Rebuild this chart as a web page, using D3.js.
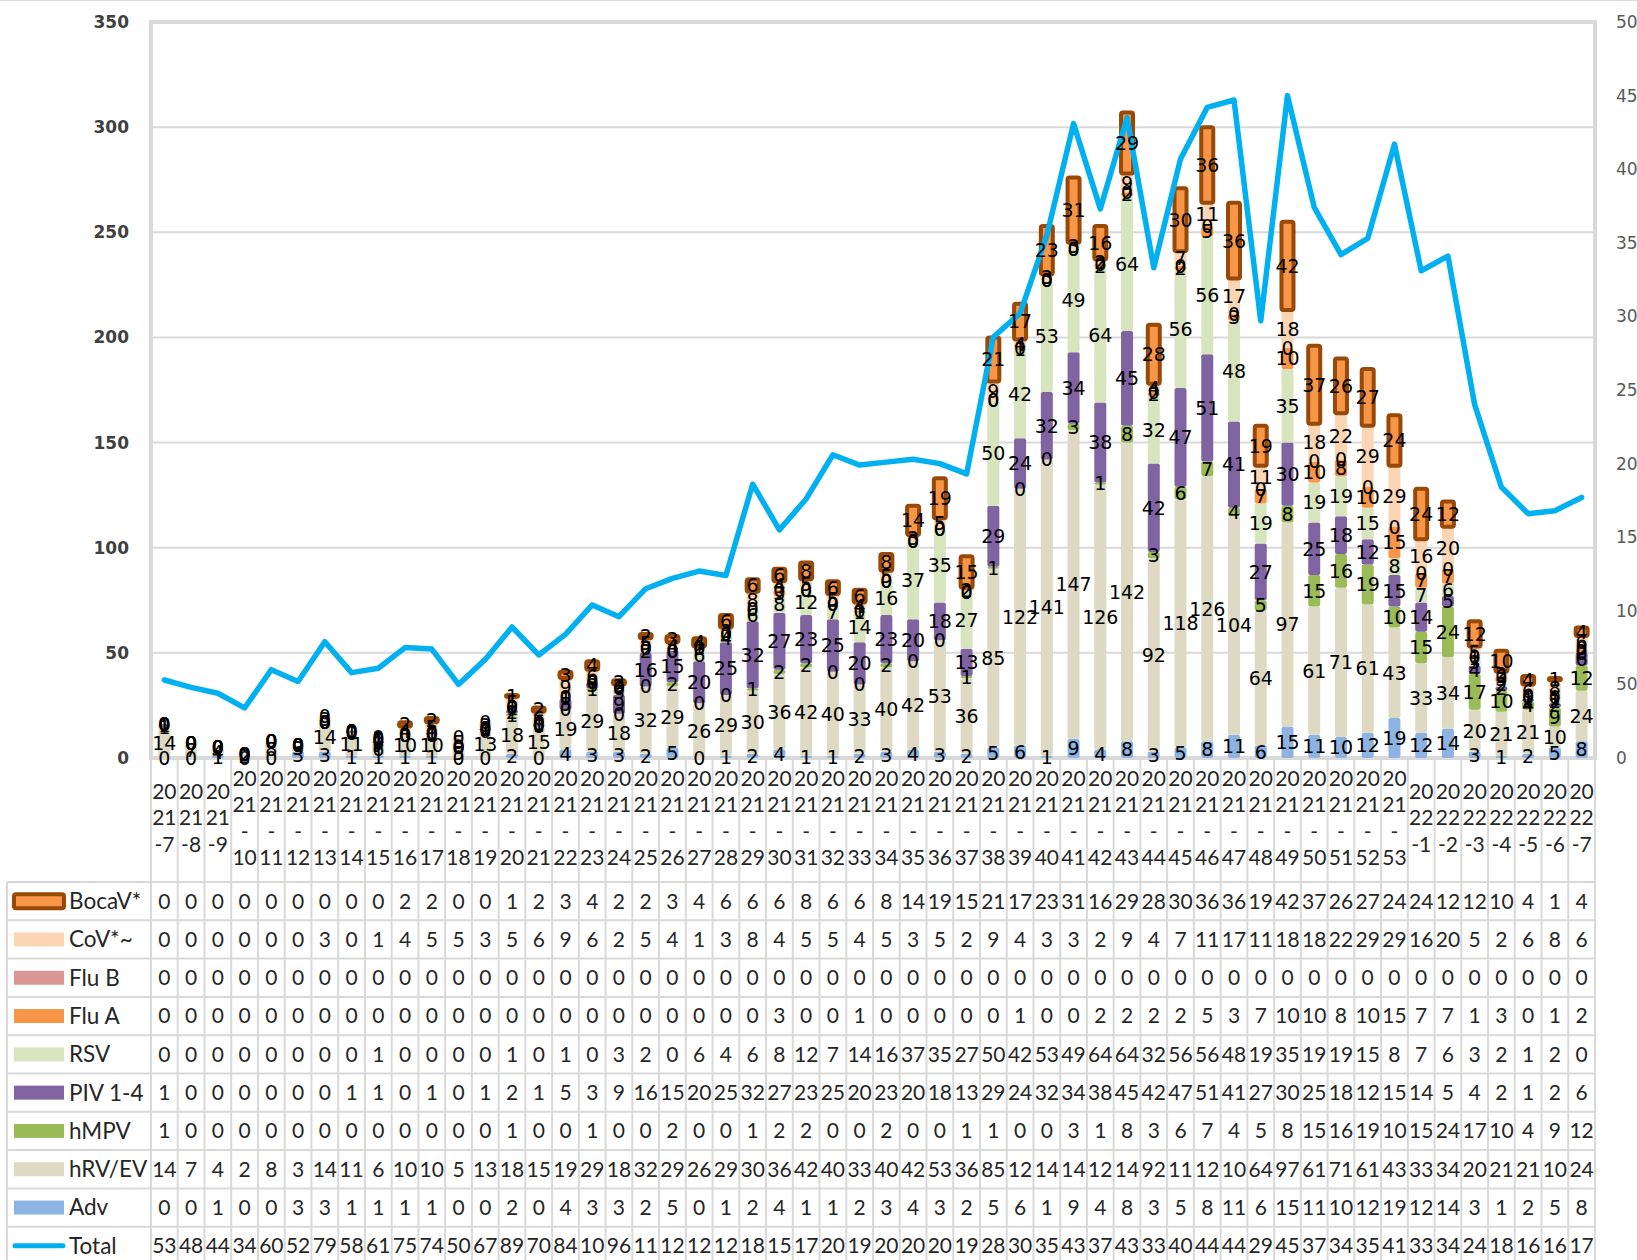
<!DOCTYPE html>
<html>
<head>
<meta charset="utf-8">
<script src="https://cdn.jsdelivr.net/npm/d3@7/dist/d3.min.js"></script>
<style>
  body { margin: 0; background: #fff; }
  svg { display: block; }
</style>
</head>
<body>
<div id="chart"></div>
<script>
const weeks = ["2021-7","2021-8","2021-9","2021-10","2021-11","2021-12","2021-13","2021-14","2021-15","2021-16",
  "2021-17","2021-18","2021-19","2021-20","2021-21","2021-22","2021-23","2021-24","2021-25","2021-26",
  "2021-27","2021-28","2021-29","2021-30","2021-31","2021-32","2021-33","2021-34","2021-35","2021-36",
  "2021-37","2021-38","2021-39","2021-40","2021-41","2021-42","2021-43","2021-44","2021-45","2021-46",
  "2021-47","2021-48","2021-49","2021-50","2021-51","2021-52","2021-53","2022-1","2022-2","2022-3",
  "2022-4","2022-5","2022-6","2022-7"];

const bocav = [0,0,0,0,0,0,0,0,0,2,2,0,0,1,2, 3,4,2,2,3,4,6,6,6,8,6,6,8,14,19,15,21,17,23,31, 16,29,28,30,36,36,19,42,37,26,27,24,24,12,12,10,4,1,4];
const cov   = [0,0,0,0,0,0,3,0,1,4,5,5,3,5,6, 9,6,2,5,4,1,3,8,4,5,5,4,5,3,5,2,9,4,3,3, 2,9,4,7,11,17,11,18,18,22,29,29,16,20,5,2,6,8,6];
const flub  = [0,0,0,0,0,0,0,0,0,0,0,0,0,0,0, 0,0,0,0,0,0,0,0,0,0,0,0,0,0,0,0,0,0,0,0, 0,0,0,0,0,0,0,0,0,0,0,0,0,0,0,0,0,0,0];
const flua  = [0,0,0,0,0,0,0,0,0,0,0,0,0,0,0, 0,0,0,0,0,0,0,0,3,0,0,1,0,0,0,0,0,1,0,0, 2,2,2,2,5,3,7,10,10,8,10,15,7,7,1,3,0,1,2];
const rsv   = [0,0,0,0,0,0,0,0,1,0,0,0,0,1,0, 1,0,3,2,0,6,4,6,8,12,7,14,16,37,35,27,50,42,53,49, 64,64,32,56,56,48,19,35,19,19,15,8,7,6,3,2,1,2,0];
const piv   = [1,0,0,0,0,0,0,1,1,0,1,0,1,2,1, 5,3,9,16,15,20,25,32,27,23,25,20,23,20,18,13,29,24,32,34, 38,45,42,47,51,41,27,30,25,18,12,15,14,5,4,2,1,2,6];
const hmpv  = [1,0,0,0,0,0,0,0,0,0,0,0,0,1,0, 0,1,0,0,2,0,0,1,2,2,0,0,2,0,0,1,1,0,0,3, 1,8,3,6,7,4,5,8,15,16,19,10,15,24,17,10,4,9,12];
const hrv   = [14,7,4,2,8,3,14,11,6,10,10,5,13,18,15, 19,29,18,32,29,26,29,30,36,42,40,33,40,42,53,36,85,122,141,147, 126,142,92,118,126,104,64,97,61,71,61,43,33,34,20,21,21,10,24];
const adv   = [0,0,1,0,0,3,3,1,1,1,1,0,0,2,0, 4,3,3,2,5,0,1,2,4,1,1,2,3,4,3,2,5,6,1,9, 4,8,3,5,8,11,6,15,11,10,12,19,12,14,3,1,2,5,8];
const total = [53,48,44,34,60,52,79,58,61,75,74,50,67,89,70, 84,104,96,115,122,127,124,186,155,176,206,199,201,203,200,193,286,302,355,431, 373,435,333,407,442,447,297,450,374,342,353,417,331,341,240,184,166,168,177];

const leftTicks = [0,50,100,150,200,250,300,350];
const rightTicks = [0,50,100,150,200,250,300,350,400,450,500];

// series, bottom of the stack first
const series = [
  {key: "Adv",     values: adv,   color: "#8db3e2"},
  {key: "hRV/EV",  values: hrv,   color: "#ddd9c3"},
  {key: "hMPV",    values: hmpv,  color: "#9bbb59"},
  {key: "PIV 1-4", values: piv,   color: "#8064a2"},
  {key: "RSV",     values: rsv,   color: "#d7e4bd"},
  {key: "Flu A",   values: flua,  color: "#f79646"},
  {key: "Flu B",   values: flub,  color: "#d99694"},
  {key: "CoV*~",   values: cov,   color: "#fcd5b5"},
  {key: "BocaV*",  values: bocav, color: "#f79646", stroke: "#984807"}
];

// Set the dimensions of the page and plot area
let width = 1637, height = 1260;
let plot = {left: 151, right: 1595, top: 22, bottom: 758};
let gridColor = "#d9d9d9";

var svg = d3.select("#chart")
  .append("svg")
    .attr("width", width)
    .attr("height", height);

svg.append("line")
  .attr("x1", 0).attr("x2", width).attr("y1", 0.5).attr("y2", 0.5)
  .attr("stroke", gridColor).attr("stroke-width", 1);

var x = d3.scaleBand()
  .domain(weeks)
  .range([plot.left, plot.right]);
var y = d3.scaleLinear()
  .domain([0, 350])
  .range([plot.bottom, plot.top]);
var y2 = d3.scaleLinear()
  .domain([0, 500])
  .range([plot.bottom, plot.top]);

// Gridlines
svg.append("g")
  .selectAll("line")
  .data(leftTicks)
  .enter()
  .append("line")
    .attr("x1", plot.left).attr("x2", plot.right)
    .attr("y1", d => y(d)).attr("y2", d => y(d))
    .attr("stroke", gridColor)
    .attr("stroke-width", 2);

// Left axis
let axL = svg.append("g")
  .attr("transform", "translate(" + plot.left + ",0)")
  .call(d3.axisLeft(y).tickValues(leftTicks).tickSize(0).tickPadding(22));
axL.select(".domain").remove();
axL.selectAll("text")
  .style("font-family", "'DejaVu Sans', sans-serif")
  .style("font-size", "17px")
  .style("font-weight", "bold")
  .style("fill", "#404040");

// Right axis
let axR = svg.append("g")
  .attr("transform", "translate(" + plot.right + ",0)")
  .call(d3.axisRight(y2).tickValues(rightTicks).tickSize(0).tickPadding(21));
axR.select(".domain").remove();
axR.selectAll("text")
  .style("font-family", "'DejaVu Sans', sans-serif")
  .style("font-size", "17px")
  .style("fill", "#595959");

// Table grid (x-axis category row + data table)
let colW = x.step();
let headTop = plot.bottom, rowTop = 882, rowH = 38.3;
let rowNames = ["BocaV*","CoV*~","Flu B","Flu A","RSV","PIV 1-4","hMPV","hRV/EV","Adv","Total"];
let rowValues = [bocav, cov, flub, flua, rsv, piv, hmpv, hrv, adv, total];

let grid = svg.append("g").attr("stroke", gridColor).attr("stroke-width", 2);
grid.selectAll(".vline")
  .data(d3.range(weeks.length + 1))
  .enter()
  .append("line")
    .attr("x1", i => plot.left + i * colW).attr("x2", i => plot.left + i * colW)
    .attr("y1", headTop).attr("y2", height);
grid.append("line")
  .attr("x1", 7).attr("x2", 7).attr("y1", rowTop).attr("y2", height);
grid.selectAll(".hline")
  .data(d3.range(rowNames.length + 1))
  .enter()
  .append("line")
    .attr("x1", 7).attr("x2", plot.right)
    .attr("y1", i => rowTop + i * rowH).attr("y2", i => rowTop + i * rowH);

// Plot frame
svg.append("rect")
  .attr("x", plot.left).attr("y", plot.top)
  .attr("width", plot.right - plot.left).attr("height", plot.bottom - plot.top)
  .attr("fill", "none")
  .attr("stroke", gridColor)
  .attr("stroke-width", 4);

// Stacked bars
let rows = weeks.map((w, i) => {
  let r = {week: w};
  series.forEach(s => r[s.key] = s.values[i]);
  return r;
});
let stacked = d3.stack().keys(series.map(s => s.key))(rows);
let barW = 12;

let layers = svg.append("g")
  .selectAll("g")
  .data(stacked)
  .enter()
  .append("g")
    .attr("fill", (d, i) => series[i].color)
    .attr("stroke", (d, i) => series[i].stroke || "none")
    .attr("stroke-width", (d, i) => series[i].stroke ? 4 : 0);

layers.selectAll("rect")
  .data(d => d.filter(p => p[1] - p[0] > 0))
  .enter()
  .append("rect")
    .attr("x", d => x(d.data.week) + (colW - barW) / 2)
    .attr("y", d => y(d[1]))
    .attr("width", barW)
    .attr("height", d => y(d[0]) - y(d[1]))
    .attr("rx", 2);

// Total line on the right axis
let line = d3.line()
  .x((d, i) => x(weeks[i]) + colW / 2)
  .y(d => y2(d));
svg.append("path")
  .datum(total)
  .attr("d", line)
  .attr("fill", "none")
  .attr("stroke", "#00b0f0")
  .attr("stroke-width", 5.5)
  .attr("stroke-linejoin", "round")
  .attr("stroke-linecap", "round");

// Data labels, centred in every segment (zeros too)
let labels = svg.append("g")
  .style("font-family", "'DejaVu Sans', sans-serif")
  .style("font-size", "19px")
  .attr("fill", "#000")
  .attr("text-anchor", "middle");
stacked.forEach(layer => {
  labels.selectAll(null)
    .data(layer)
    .enter()
    .append("text")
      .attr("x", d => x(d.data.week) + colW / 2)
      .attr("y", d => (y(d[0]) + y(d[1])) / 2)
      .attr("dy", "0.36em")
      .text(d => d[1] - d[0]);
});

// Category labels, wrapped like the table header cells
let tableFont = "Lato, 'Open Sans', sans-serif";
let head = svg.append("g")
  .style("font-family", tableFont)
  .style("font-size", "21px")
  .attr("fill", "#262626")
  .attr("text-anchor", "middle");
weeks.forEach(w => {
  let parts = w.split("-");
  let lines = parts[1].length > 1
    ? [parts[0].slice(0, 2), parts[0].slice(2), "-", parts[1]]
    : [parts[0].slice(0, 2), parts[0].slice(2), "-" + parts[1]];
  let t = head.append("text")
    .attr("x", x(w) + colW / 2);
  lines.forEach((l, j) => {
    t.append("tspan")
      .attr("x", x(w) + colW / 2)
      .attr("y", 818 + (j - (lines.length - 1) / 2) * 26.5)
      .attr("dy", "0.35em")
      .text(l);
  });
});

// Table rows
let table = svg.append("g")
  .style("font-family", tableFont)
  .style("font-size", "21px")
  .attr("fill", "#262626");
rowNames.forEach((name, r) => {
  let cy = rowTop + r * rowH + rowH / 2;
  let s = series.find(d => d.key === name);
  if (name === "Total") {
    table.append("line")
      .attr("x1", 15).attr("x2", 63).attr("y1", cy).attr("y2", cy)
      .attr("stroke", "#00b0f0").attr("stroke-width", 5).attr("stroke-linecap", "round");
  } else if (s.stroke) {
    table.append("rect")
      .attr("x", 14).attr("y", cy - 7).attr("width", 50).attr("height", 14)
      .attr("rx", 2)
      .attr("fill", s.color).attr("stroke", s.stroke).attr("stroke-width", 4);
  } else {
    table.append("rect")
      .attr("x", 14).attr("y", cy - 7).attr("width", 50).attr("height", 14)
      .attr("fill", s.color);
  }
  table.append("text")
    .attr("x", 69).attr("y", cy).attr("dy", "0.35em")
    .style("font-size", "22.5px")
    .text(name);
  table.selectAll(null)
    .data(rowValues[r])
    .enter()
    .append("text")
      .attr("x", (d, i) => x(weeks[i]) + colW / 2)
      .attr("y", cy)
      .attr("dy", "0.35em")
      .attr("text-anchor", "middle")
      .text(d => String(d).slice(0, 2));
});
</script>
</body>
</html>
